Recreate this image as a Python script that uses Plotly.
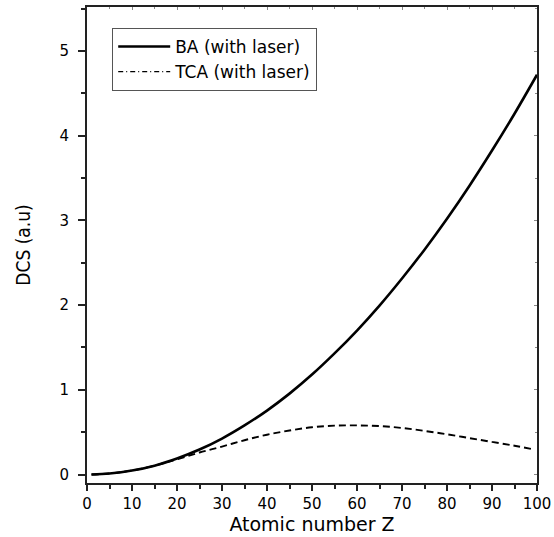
import plotly.graph_objects as go

# Atomic number Z
z_ba = [1, 5, 10, 15, 20, 25, 30, 35, 40, 45, 50, 55, 60, 65, 70, 75, 80, 85, 90, 95, 100]
# Differential cross section, Born approximation (with laser)
dcs_ba = [0.0, 0.012, 0.047, 0.105, 0.19, 0.295, 0.425, 0.58, 0.755, 0.955, 1.18,
          1.43, 1.70, 1.995, 2.315, 2.655, 3.02, 3.41, 3.825, 4.26, 4.72]

z_tca = [1, 5, 10, 15, 20, 25, 30, 35, 40, 45, 50, 55, 60, 65, 70, 75, 80, 85, 90, 95, 99]
# Differential cross section, TCA (with laser)
dcs_tca = [0.0, 0.012, 0.047, 0.105, 0.18, 0.26, 0.33, 0.405, 0.47, 0.52, 0.558,
           0.577, 0.58, 0.572, 0.55, 0.515, 0.475, 0.43, 0.385, 0.34, 0.30]

x_ticks = list(range(0, 101, 10))
y_ticks = [0, 1, 2, 3, 4, 5]

font_main = "DejaVu Sans, Liberation Sans, Arial, sans-serif"
font_ytitle = "DejaVu Sans Condensed, Liberation Sans Narrow, Arial, sans-serif"
axis_col = "#222222"

fig = go.Figure()
fig.add_trace(go.Scatter(x=z_ba, y=dcs_ba, mode="lines",
                         line=dict(color="black", width=2.6, shape="spline"),
                         name="BA (with laser)"))
fig.add_trace(go.Scatter(x=z_tca, y=dcs_tca, mode="lines",
                         line=dict(color="black", width=1.9, dash="7px,4px", shape="spline"),
                         name="TCA (with laser)", showlegend=False))
# legend entry for the TCA curve in dash-dot style
fig.add_trace(go.Scatter(x=[None], y=[None], mode="lines",
                         line=dict(color="black", width=1.2, dash="5px,3px,1px,3px"),
                         name="TCA (with laser)"))

fig.update_layout(
    width=554, height=537,
    margin=dict(l=87, r=17, t=7, b=54),
    paper_bgcolor="white", plot_bgcolor="white",
    showlegend=True,
    legend=dict(x=0.056, y=0.956, xanchor="left", yanchor="top",
                bordercolor="#555555", borderwidth=1, bgcolor="white",
                font=dict(family=font_main, size=17, color="black"),
                tracegroupgap=0, itemwidth=52),
    xaxis=dict(range=[0, 100], tickvals=x_ticks, automargin=False,
               showgrid=False, zeroline=False, showline=True, linewidth=2, linecolor=axis_col,
               ticks="outside", ticklen=6, tickwidth=1.5, tickcolor=axis_col, ticklabelstandoff=0,
               minor=dict(dtick=5, ticks="outside", ticklen=4, tickwidth=1.5, tickcolor=axis_col),
               tickfont=dict(family=font_main, size=15, color="black"),
               title=dict(text="Atomic number Z", font=dict(family=font_main, size=19, color="black"),
                          standoff=0)),
    yaxis=dict(range=[-0.1, 5.52], tickvals=y_ticks, automargin=False,
               showgrid=False, zeroline=False, showline=True, linewidth=2, linecolor=axis_col,
               ticks="outside", ticklen=7, tickwidth=1.5, tickcolor=axis_col, ticklabelstandoff=6,
               minor=dict(dtick=0.5, ticks="outside", ticklen=4, tickwidth=1.5, tickcolor=axis_col),
               tickfont=dict(family=font_main, size=15, color="black"),
               title=dict(text="DCS (a.u)",
                          font=dict(family=font_ytitle, size=19, color="black"),
                          standoff=24)),
    xaxis2=dict(overlaying="x", side="top", matches="x", range=[0, 100], tickvals=x_ticks,
                showticklabels=False, showgrid=False, zeroline=False, showline=True, linewidth=2,
                linecolor=axis_col, ticks="inside", ticklen=3, tickwidth=1, tickcolor="#888888",
                minor=dict(dtick=5, ticks="inside", ticklen=2, tickwidth=1, tickcolor="#888888")),
    yaxis2=dict(overlaying="y", side="right", matches="y", range=[-0.1, 5.52], tickvals=y_ticks,
                showticklabels=False, showgrid=False, zeroline=False, showline=True, linewidth=2,
                linecolor=axis_col, ticks="inside", ticklen=3, tickwidth=1, tickcolor="#888888",
                minor=dict(dtick=0.5, ticks="inside", ticklen=2, tickwidth=1, tickcolor="#888888")),
)
# empty trace that activates the mirrored top/right axes
fig.add_trace(go.Scatter(x=[None], y=[None], xaxis="x2", yaxis="y2", showlegend=False, hoverinfo="skip"))

fig.write_html("out.html")
